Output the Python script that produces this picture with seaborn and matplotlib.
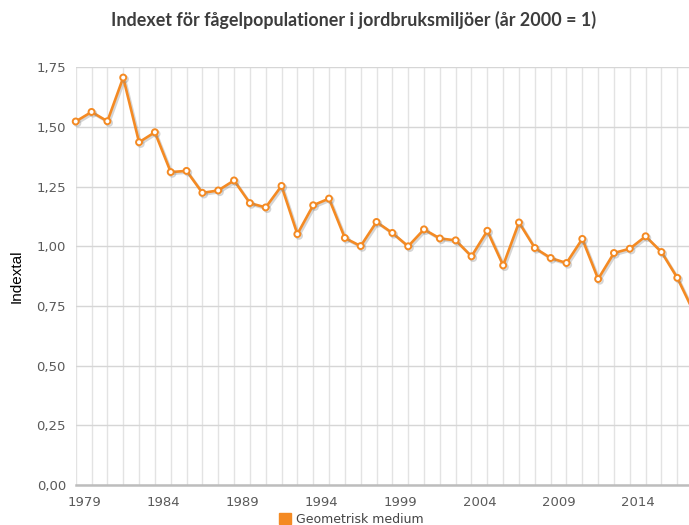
import matplotlib
matplotlib.use("Agg")
import matplotlib.pyplot as plt
import matplotlib.patheffects as pe
from matplotlib.patches import Patch
from matplotlib.ticker import FuncFormatter
from matplotlib.transforms import ScaledTranslation
import seaborn as sns
import pandas as pd

# Farmland bird index, geometric mean (year 2000 = 1)
years = list(range(1979, 2019))
index_values = [
    1.523, 1.563, 1.524, 1.707, 1.436, 1.478, 1.311, 1.316, 1.224, 1.234,
    1.276, 1.181, 1.163, 1.253, 1.051, 1.172, 1.200, 1.035, 1.001, 1.102,
    1.056, 1.000, 1.071, 1.033, 1.025, 0.958, 1.065, 0.920, 1.100, 0.993,
    0.951, 0.930, 1.031, 0.863, 0.972, 0.990, 1.042, 0.976, 0.868, 0.730,
]
label_years = [1979, 1984, 1989, 1994, 1999, 2004, 2009, 2014]
y_ticks = [0.0, 0.25, 0.5, 0.75, 1.0, 1.25, 1.5, 1.75]

series_name = "Geometrisk medium"
title = "Indexet för fågelpopulationer i jordbruksmiljöer (år 2000 = 1)"
orange = "#F48A23"

df = pd.DataFrame({"År": years, "Index": index_values})

sns.set_style("white")
plt.rcParams["font.family"] = ["DejaVu Sans"]

fig = plt.figure(figsize=(6.89, 5.25), dpi=100)
ax = fig.add_axes([0.1099, 0.0762, 0.8901, 0.7956])

sns.lineplot(
    data=df, x="År", y="Index", ax=ax, color=orange, linewidth=1.9,
    marker="o", markersize=4.3, markerfacecolor="white",
    markeredgecolor=orange, markeredgewidth=1.4, clip_on=False, zorder=5,
    path_effects=[pe.SimpleLineShadow(offset=(1.2, -1.2), shadow_color="#888888", alpha=0.35),
                  pe.Normal()],
)

ax.set_xlim(1979, 2017.74)
ax.set_ylim(0, 1.75)

# yearly vertical grid, labels every fifth year
ax.set_xticks(years[:-1])
ax.set_xticklabels([str(y) if y in label_years else "" for y in years[:-1]])
ax.set_yticks(y_ticks)
ax.yaxis.set_major_formatter(FuncFormatter(lambda v, _: f"{v:.2f}".replace(".", ",")))

ax.grid(True, axis="x", color="#e3e3e3", linewidth=1.0)
ax.grid(True, axis="y", color="#d6d6d6", linewidth=1.0)
ax.set_axisbelow(True)

for side in ("top", "right", "left"):
    ax.spines[side].set_visible(False)
ax.spines["bottom"].set_color("#bdbdbd")
ax.spines["bottom"].set_linewidth(1.8)
ax.spines["bottom"].set_zorder(1)

ax.tick_params(axis="both", length=0, labelsize=9.5, labelcolor="#5a5a5a")
ax.tick_params(axis="x", pad=8)
ax.tick_params(axis="y", pad=7)

shift = ScaledTranslation(8.5 / 100, 0, fig.dpi_scale_trans)
for lbl in ax.get_xticklabels():
    lbl.set_transform(lbl.get_transform() + shift)

ax.set_xlabel("")
ax.set_ylabel("Indextal", fontsize=11, color="black", family=["Liberation Sans", "DejaVu Sans"],
              labelpad=9)

fig.text(0.513, 0.962, title, ha="center", va="center", fontsize=12.9,
         fontweight="bold", color="#3d3d3d", family=["Lato", "DejaVu Sans"])

fig.legend(
    handles=[Patch(facecolor=orange, edgecolor=orange, label=series_name)],
    loc="center", bbox_to_anchor=(0.51, 0.011), frameon=False,
    fontsize=9, labelcolor="#444444", handlelength=1.0, handleheight=1.0,
    handletextpad=0.4,
)

fig.savefig("out.png", dpi=100, facecolor="white")
